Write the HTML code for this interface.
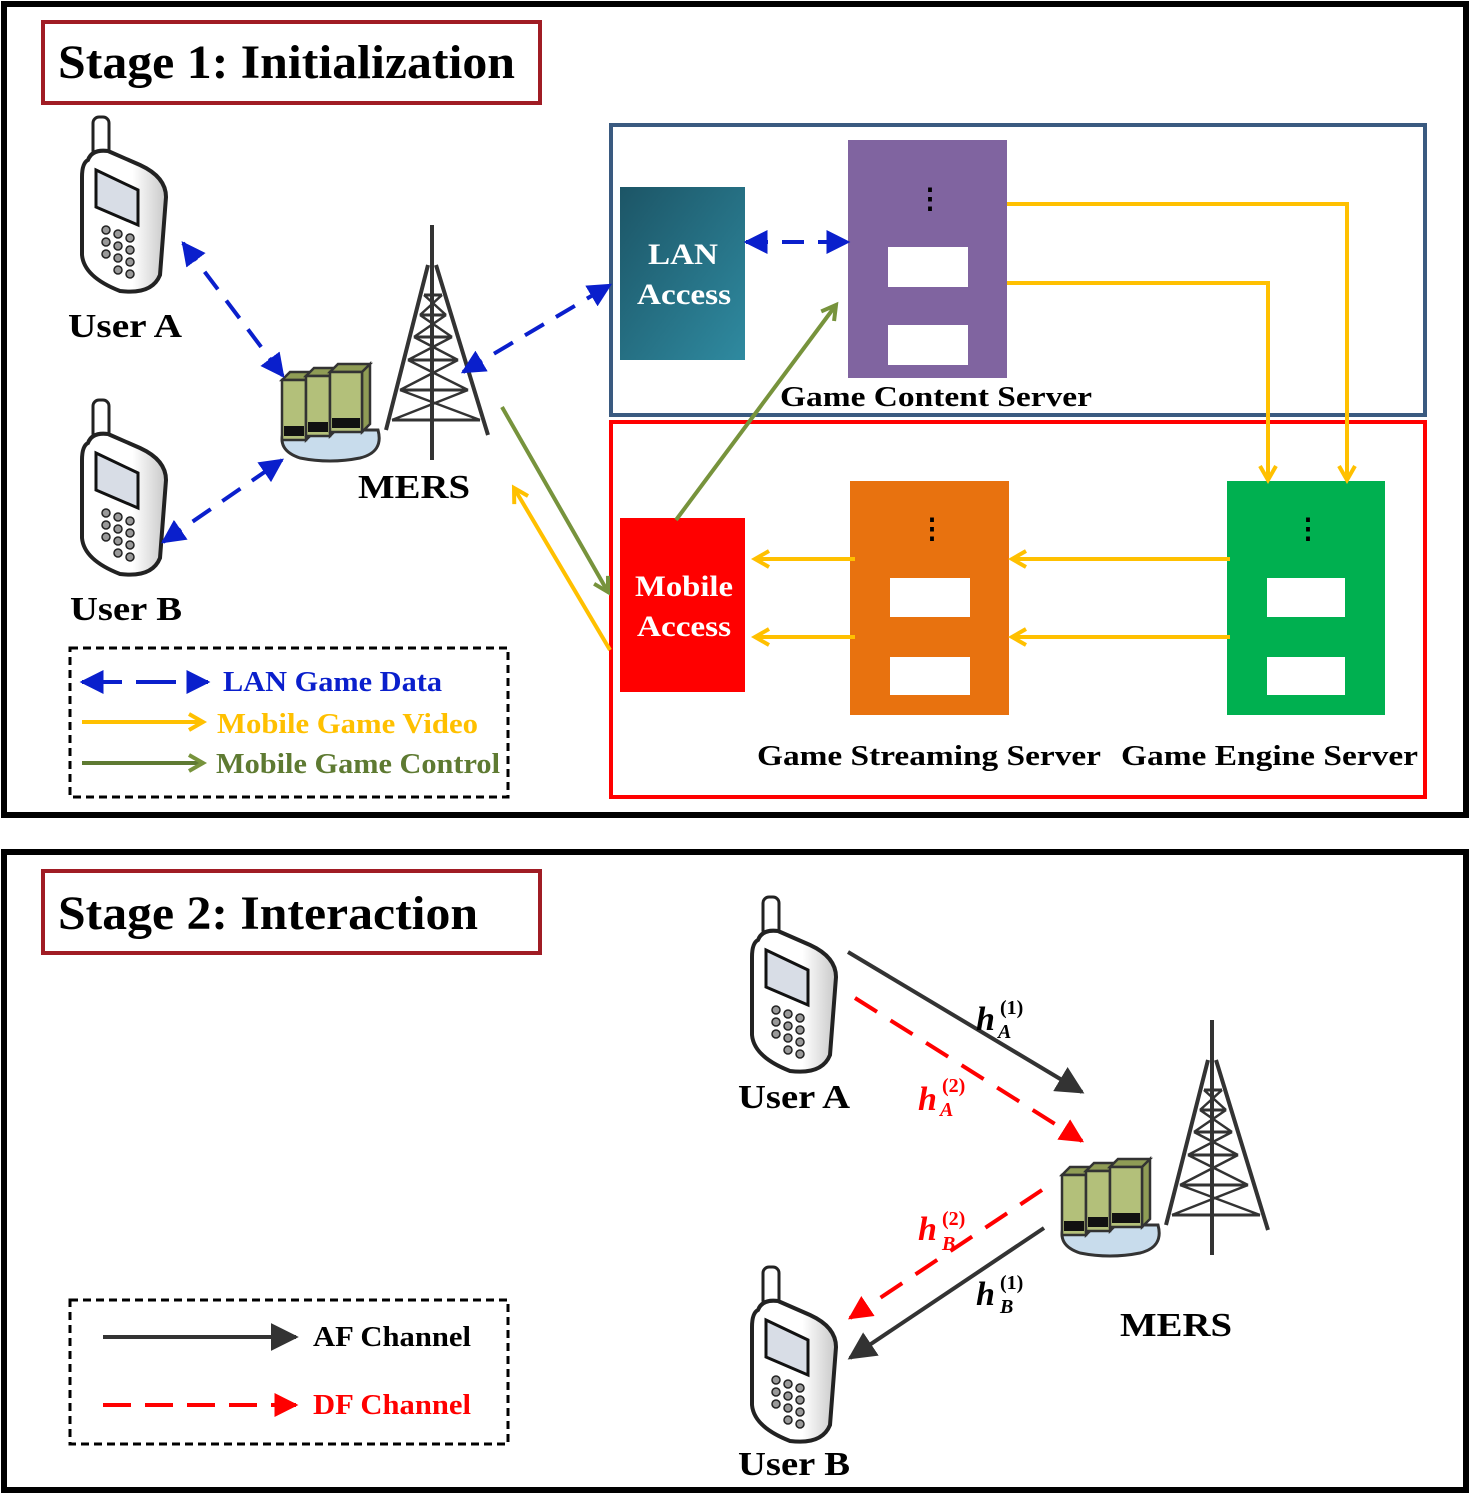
<!DOCTYPE html>
<html><head><meta charset="utf-8"><style>
html,body{margin:0;padding:0;background:#fff}
svg{display:block}
text{font-family:"Liberation Serif",serif;font-weight:bold}
</style></head><body>
<svg width="1482" height="1497" viewBox="0 0 1482 1497" xmlns="http://www.w3.org/2000/svg">
<defs>
<marker id="mb" viewBox="0 0 10 10" refX="9" refY="5" markerWidth="6" markerHeight="6" orient="auto-start-reverse" markerUnits="strokeWidth"><path d="M0,0 L10,5 L0,10 Z" fill="#0a1fcc"/></marker>
<marker id="my" viewBox="0 0 10 10" refX="8" refY="5" markerWidth="5" markerHeight="5" orient="auto" markerUnits="strokeWidth"><path d="M1,1 L8,5 L1,9" fill="none" stroke="#ffc000" stroke-width="2"/></marker>
<marker id="mg" viewBox="0 0 10 10" refX="8" refY="5" markerWidth="5" markerHeight="5" orient="auto" markerUnits="strokeWidth"><path d="M1,1 L8,5 L1,9" fill="none" stroke="#77933c" stroke-width="2"/></marker>
<marker id="mk" viewBox="0 0 10 10" refX="9" refY="5" markerWidth="7" markerHeight="7" orient="auto" markerUnits="strokeWidth"><path d="M0,0 L10,5 L0,10 Z" fill="#333"/></marker>
<marker id="mr" viewBox="0 0 10 10" refX="9" refY="5" markerWidth="6" markerHeight="6" orient="auto" markerUnits="strokeWidth"><path d="M0,0 L10,5 L0,10 Z" fill="#f00"/></marker>
<linearGradient id="pg" x1="0" x2="1"><stop offset="0.6" stop-color="#fff"/><stop offset="1" stop-color="#c8c8c8"/></linearGradient>
<linearGradient id="lg" x1="0" y1="0" x2="1" y2="1"><stop offset="0" stop-color="#1c5566"/><stop offset="1" stop-color="#2f8aa0"/></linearGradient>
<g id="phone">
<rect x="13" y="2" width="16" height="40" rx="6" fill="#fff" stroke="#222" stroke-width="3"/>
<path d="M8 45 Q2 48 2 62 L2 140 Q4 162 40 176 Q72 180 80 160 L86 82 Q86 62 60 50 L28 36 Q12 34 8 45 Z" fill="url(#pg)" stroke="#222" stroke-width="4"/>
<path d="M16 55 L58 75 L58 110 L16 92 Z" fill="#d8dde6" stroke="#111" stroke-width="3"/>
<g fill="#999" stroke="#222" stroke-width="1.5">
<circle cx="26" cy="115" r="4"/><circle cx="38" cy="119" r="4"/><circle cx="50" cy="123" r="4"/>
<circle cx="26" cy="127" r="4"/><circle cx="38" cy="131" r="4"/><circle cx="50" cy="135" r="4"/>
<circle cx="26" cy="139" r="4"/><circle cx="38" cy="143" r="4"/><circle cx="50" cy="147" r="4"/>
<circle cx="38" cy="155" r="4"/><circle cx="50" cy="159" r="4"/>
</g></g>
<g id="srv">
<path d="M4 70 Q-4 90 20 98 Q50 104 80 98 Q104 92 98 70 Z" fill="#c8dcec" stroke="#333" stroke-width="3"/>
<g stroke="#333" stroke-width="2.5" fill="#b3c07a">
<path d="M2 20 L10 12 L34 12 L26 20 Z M26 20 L34 12 L34 72 L26 80 Z" fill="#8f9c55"/><rect x="2" y="20" width="24" height="60"/>
<path d="M26 16 L34 8 L58 8 L50 16 Z M50 16 L58 8 L58 68 L50 76 Z" fill="#8f9c55"/><rect x="26" y="16" width="24" height="60"/>
<path d="M50 12 L58 4 L90 4 L82 12 Z M82 12 L90 4 L90 64 L82 72 Z" fill="#8f9c55"/><rect x="50" y="12" width="32" height="60"/>
</g>
<g fill="#111"><rect x="4" y="66" width="20" height="10"/><rect x="28" y="62" width="20" height="10"/><rect x="52" y="58" width="28" height="10"/></g>
</g>
<g id="tower" stroke="#333" stroke-width="4" fill="none">
<line x1="48" y1="0" x2="48" y2="235"/>
<path d="M44 40 L2 205 M52 40 L104 210"/>
<path d="M40 70 L58 70 M36 90 L62 90 M30 112 L68 112 M24 135 L74 135 M16 165 L84 165 M8 195 L96 195" stroke-width="3"/>
<path d="M40 70 L62 90 M58 70 L36 90 M36 90 L68 112 M62 90 L30 112 M30 112 L74 135 M68 112 L24 135 M24 135 L84 165 M74 135 L16 165 M16 165 L96 195 M84 165 L8 195" stroke-width="2.5"/>
</g>
</defs>

<!-- Stage 1 -->
<rect x="4" y="4" width="1462" height="811" fill="none" stroke="#000" stroke-width="6"/>
<rect x="43" y="22" width="497" height="81" fill="none" stroke="#a01c24" stroke-width="4"/>
<text x="58" y="78" font-size="48" textLength="457" lengthAdjust="spacingAndGlyphs">Stage 1: Initialization</text>

<use href="#phone" x="80" y="115"/>
<use href="#phone" x="80" y="398"/>
<text x="68" y="337" font-size="34" textLength="114" lengthAdjust="spacingAndGlyphs">User A</text>
<text x="70" y="620" font-size="34" textLength="112" lengthAdjust="spacingAndGlyphs">User B</text>
<use href="#tower" x="384" y="225"/>
<use href="#srv" x="280" y="360"/>
<text x="358" y="498" font-size="34" textLength="112" lengthAdjust="spacingAndGlyphs">MERS</text>

<rect x="611" y="125" width="814" height="290" fill="none" stroke="#3a5a80" stroke-width="4"/>
<rect x="611" y="422" width="814" height="375" fill="none" stroke="#f00" stroke-width="4"/>

<rect x="620" y="187" width="125" height="173" fill="url(#lg)"/>
<text x="648" y="264" font-size="30" fill="#fff" textLength="70" lengthAdjust="spacingAndGlyphs">LAN</text>
<text x="637" y="304" font-size="30" fill="#fff" textLength="94" lengthAdjust="spacingAndGlyphs">Access</text>

<rect x="848" y="140" width="159" height="238" fill="#8064a0"/>
<rect x="888" y="247" width="80" height="40" fill="#fff"/><rect x="888" y="325" width="80" height="40" fill="#fff"/>
<text x="930" y="208" font-size="28" text-anchor="middle">⋮</text>
<text x="780" y="406" font-size="28" textLength="312" lengthAdjust="spacingAndGlyphs">Game Content Server</text>

<rect x="620" y="518" width="125" height="174" fill="#f00"/>
<text x="635" y="596" font-size="30" fill="#fff" textLength="98" lengthAdjust="spacingAndGlyphs">Mobile</text>
<text x="637" y="636" font-size="30" fill="#fff" textLength="94" lengthAdjust="spacingAndGlyphs">Access</text>

<rect x="850" y="481" width="159" height="234" fill="#e8720f"/>
<rect x="890" y="578" width="80" height="39" fill="#fff"/><rect x="890" y="657" width="80" height="38" fill="#fff"/>
<text x="932" y="538" font-size="28" text-anchor="middle">⋮</text>
<rect x="1227" y="481" width="158" height="234" fill="#00b050"/>
<rect x="1267" y="578" width="78" height="39" fill="#fff"/><rect x="1267" y="657" width="78" height="38" fill="#fff"/>
<text x="1308" y="538" font-size="28" text-anchor="middle">⋮</text>
<text x="757" y="765" font-size="28" textLength="344" lengthAdjust="spacingAndGlyphs">Game Streaming Server</text>
<text x="1121" y="765" font-size="28" textLength="297" lengthAdjust="spacingAndGlyphs">Game Engine Server</text>

<g stroke="#ffc000" stroke-width="4" fill="none">
<path d="M1007 204 L1347 204 L1347 480" marker-end="url(#my)"/>
<path d="M1007 283 L1268 283 L1268 480" marker-end="url(#my)"/>
<line x1="1230" y1="559" x2="1012" y2="559" marker-end="url(#my)"/>
<line x1="1230" y1="637" x2="1012" y2="637" marker-end="url(#my)"/>
<line x1="855" y1="559" x2="755" y2="559" marker-end="url(#my)"/>
<line x1="855" y1="637" x2="755" y2="637" marker-end="url(#my)"/>
<line x1="610" y1="650" x2="514" y2="488" marker-end="url(#my)"/>
</g>
<g stroke="#77933c" stroke-width="4" fill="none">
<line x1="502" y1="407" x2="608" y2="592" marker-end="url(#mg)"/>
<line x1="676" y1="520" x2="836" y2="305" marker-end="url(#mg)"/>
</g>
<g stroke="#0a1fcc" stroke-width="4" fill="none" stroke-dasharray="22,14">
<line x1="183" y1="243" x2="283" y2="376" marker-start="url(#mb)" marker-end="url(#mb)"/>
<line x1="163" y1="542" x2="282" y2="460" marker-start="url(#mb)" marker-end="url(#mb)"/>
<line x1="463" y1="372" x2="610" y2="285" marker-start="url(#mb)" marker-end="url(#mb)"/>
<line x1="746" y1="242" x2="848" y2="242" marker-start="url(#mb)" marker-end="url(#mb)"/>
</g>

<rect x="70" y="648" width="438" height="149" fill="none" stroke="#000" stroke-width="3" stroke-dasharray="8,5"/>
<line x1="82" y1="682" x2="208" y2="682" stroke="#0a1fcc" stroke-width="4" stroke-dasharray="40,14" marker-start="url(#mb)" marker-end="url(#mb)"/>
<text x="223" y="691" font-size="28" fill="#0a1fcc" textLength="219" lengthAdjust="spacingAndGlyphs">LAN Game Data</text>
<line x1="82" y1="722" x2="203" y2="722" stroke="#ffc000" stroke-width="4" marker-end="url(#my)"/>
<text x="217" y="733" font-size="28" fill="#ffc000" textLength="261" lengthAdjust="spacingAndGlyphs">Mobile Game Video</text>
<line x1="82" y1="763" x2="203" y2="763" stroke="#5e7a32" stroke-width="4" marker-end="url(#mg)"/>
<text x="216" y="773" font-size="28" fill="#5e7a32" textLength="284" lengthAdjust="spacingAndGlyphs">Mobile Game Control</text>

<!-- Stage 2 -->
<rect x="4" y="852" width="1462" height="638" fill="none" stroke="#000" stroke-width="6"/>
<rect x="43" y="871" width="497" height="82" fill="none" stroke="#a01c24" stroke-width="4"/>
<text x="58" y="929" font-size="48" textLength="420" lengthAdjust="spacingAndGlyphs">Stage 2: Interaction</text>

<use href="#phone" x="750" y="895"/>
<use href="#phone" x="750" y="1265"/>
<text x="738" y="1108" font-size="34" textLength="112" lengthAdjust="spacingAndGlyphs">User A</text>
<text x="738" y="1475" font-size="34" textLength="112" lengthAdjust="spacingAndGlyphs">User B</text>
<use href="#tower" x="1164" y="1020"/>
<use href="#srv" x="1060" y="1155"/>
<text x="1120" y="1336" font-size="34" textLength="112" lengthAdjust="spacingAndGlyphs">MERS</text>

<line x1="848" y1="952" x2="1082" y2="1092" stroke="#333" stroke-width="4" marker-end="url(#mk)"/>
<line x1="855" y1="998" x2="1082" y2="1141" stroke="#f00" stroke-width="4" stroke-dasharray="26,16" marker-end="url(#mr)"/>
<line x1="1042" y1="1190" x2="850" y2="1318" stroke="#f00" stroke-width="4" stroke-dasharray="26,16" marker-end="url(#mr)"/>
<line x1="1044" y1="1228" x2="850" y2="1358" stroke="#333" stroke-width="4" marker-end="url(#mk)"/>
<g font-style="italic" font-size="34">
<text x="976" y="1030">h</text><text x="998" y="1038" font-size="20" font-weight="normal">A</text><text x="1000" y="1014" font-size="20" font-weight="normal" font-style="normal">(1)</text>
<text x="918" y="1110" fill="#f00">h</text><text x="940" y="1116" font-size="20" font-weight="normal" fill="#f00">A</text><text x="942" y="1092" font-size="20" font-weight="normal" font-style="normal" fill="#f00">(2)</text>
<text x="918" y="1240" fill="#f00">h</text><text x="942" y="1250" font-size="20" font-weight="normal" fill="#f00">B</text><text x="942" y="1225" font-size="20" font-weight="normal" font-style="normal" fill="#f00">(2)</text>
<text x="976" y="1305">h</text><text x="1000" y="1313" font-size="20" font-weight="normal">B</text><text x="1000" y="1289" font-size="20" font-weight="normal" font-style="normal">(1)</text>
</g>

<rect x="70" y="1300" width="438" height="144" fill="none" stroke="#000" stroke-width="3" stroke-dasharray="8,5"/>
<line x1="103" y1="1337" x2="296" y2="1337" stroke="#333" stroke-width="4" marker-end="url(#mk)"/>
<text x="313" y="1346" font-size="28" font-weight="normal" textLength="158" lengthAdjust="spacingAndGlyphs">AF Channel</text>
<line x1="103" y1="1405" x2="296" y2="1405" stroke="#f00" stroke-width="4" stroke-dasharray="28,14" marker-end="url(#mr)"/>
<text x="313" y="1414" font-size="28" font-weight="normal" fill="#f00" textLength="158" lengthAdjust="spacingAndGlyphs">DF Channel</text>
</svg>
</body></html>
